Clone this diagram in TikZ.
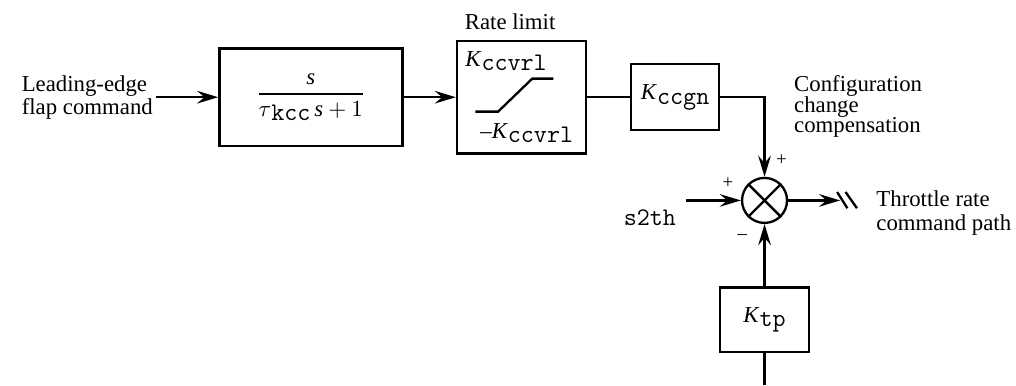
\documentclass[tikz,border=0pt]{standalone}
\usepackage{fontspec}
\setmainfont{Liberation Serif}
\usetikzlibrary{arrows.meta,calc}

\newcommand{\bigtt}{\ttfamily\fontsize{12}{12}\selectfont}
\newcommand{\lowtt}[1]{\raisebox{-0.45ex}{\bigtt #1}}
\newcommand{\tightlines}{\fontsize{10.8}{9.7}\selectfont\lineskiplimit=-20pt\relax}

\begin{document}
\begin{tikzpicture}[
  font=\fontsize{10.8}{11}\selectfont,
  line width=1.1pt,
  block/.style={draw, line width=1.1pt, inner sep=2pt},
  sum/.style={draw, circle, minimum size=0.75cm, inner sep=0pt},
  lbl/.style={align=left, inner sep=1pt},
  sgn/.style={font=\small, inner sep=0pt},
  arr/.style={-{Stealth[length=10pt, width=6pt, inset=3.5pt]}},
]
  \useasboundingbox (0,0) rectangle (16.93,6.42);

  % forward path
  \node[lbl, anchor=east] (cmd) at (2.60,4.80) {Leading-edge\\flap command};

  \node[block, minimum width=3.05cm, minimum height=1.62cm] (tf) at (5.18,4.80)
    {$\displaystyle{\textit{s}\above 1pt \tau\lowtt{kcc}\,\textit{s}+1}$};

  \node[block, minimum width=2.15cm, minimum height=1.88cm] (rl) at (8.69,4.80) {};
  \node[lbl] (rltxt) at (8.50,6.05) {Rate limit};
  \node[lbl, anchor=west] (rlhi) at (7.70,5.40) {\textit{K}\lowtt{ccvrl}};
  \node[lbl, anchor=west] (rllo) at (7.95,4.20) {\textendash\textit{K}\lowtt{ccvrl}};
  \draw (7.92,4.56) -- (8.30,4.56) -- (8.87,5.11) -- (9.22,5.11);

  \node[block, minimum width=1.47cm, minimum height=1.10cm] (gn) at (11.25,4.80)
    {\textit{K}\lowtt{ccgn}};
  \node[lbl, anchor=west, font=\tightlines] (cfg) at (13.18,4.64)
    {Configuration\\change\\compensation};

  % summing junction
  \node[sum] (sum) at (12.74,3.08) {};
  \draw (sum.north west) -- (sum.south east) (sum.north east) -- (sum.south west);
  \node[sgn] (pa) at ($(sum)+(0.28,0.67)$) {+};
  \node[sgn] (pb) at ($(sum)+(-0.61,0.29)$) {+};
  \node[sgn] (mc) at ($(sum)+(-0.37,-0.61)$) {\textendash};

  \node[block, minimum width=1.48cm, minimum height=1.08cm] (ktp) at (12.74,1.09)
    {\textit{K}\lowtt{tp}};

  \coordinate (ktpin) at (12.74,0);
  \coordinate (s2in) at (11.43,3.08);
  \coordinate (out) at (14.00,3.08);
  \node[lbl] (s2th) at (10.83,2.80) {\bigtt s2th};
  \node[lbl, anchor=west] (thr) at (14.55,2.87) {Throttle rate\\command path};

  % connectors
  \draw[arr] (cmd.east) -- (tf.west);
  \draw[arr] (tf.east) -- (rl.west);
  \draw (rl.east) -- (gn.west);
  \draw[arr] (gn.east) -| (sum.north);
  \draw[arr] (s2in) -- (sum.west);
  \draw (ktpin) -- (ktp.south);
  \draw[arr] (ktp.north) -- (sum.south);
  \draw[arr] (sum.east) -- (out);
  \draw (13.95,3.22) -- (14.12,2.95) (14.09,3.22) -- (14.28,2.95);
\end{tikzpicture}
\end{document}
